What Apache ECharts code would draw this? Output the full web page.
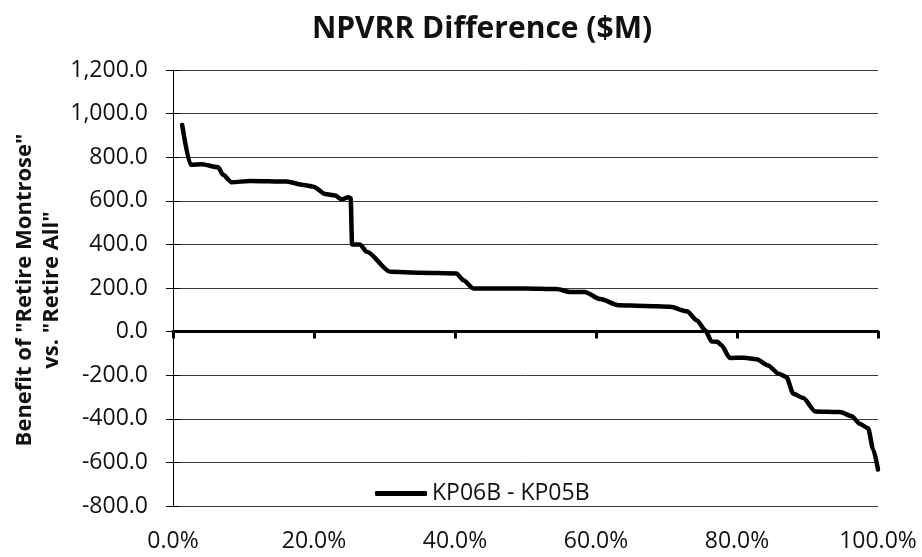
<!DOCTYPE html>
<html>
<head>
<meta charset="utf-8">
<script src="https://cdn.jsdelivr.net/npm/echarts@6/dist/echarts.min.js"></script>
<style>
  html, body { margin: 0; padding: 0; background: #fff; }
  #chart { width: 922px; height: 557px; }
</style>
</head>
<body>
<div id="chart"></div>
<script>
// ---- data ----
var seriesName = 'KP06B - KP05B';
var xPct = [1.3, 2.5, 4.1, 6.4, 7.1, 8.3, 10.9, 16.1, 18.5, 19.9, 21.6, 23.0, 23.9, 24.9, 25.2, 25.4, 26.5, 27.5, 30.8, 35.0, 40.2, 41.2, 42.6, 50.0, 54.4, 56.3, 58.4, 60.6, 63.2, 67.0, 70.5, 72.9, 74.3, 75.5, 76.4, 77.2, 77.8, 79.0, 81.0, 82.8, 84.4, 85.9, 87.0, 88.0, 89.4, 91.1, 94.6, 96.3, 97.4, 98.6, 99.3, 100.0];
var yVal = [948, 765, 768, 754, 719, 685, 691, 688, 673, 665, 631, 624, 607, 616, 612, 400, 400, 366, 274, 270, 267, 236, 198, 198, 195, 182, 182, 149, 121, 118, 114, 93, 52, 6, -45, -47, -63, -121, -120, -127, -155, -193, -208, -285, -305, -366, -369, -388, -423, -443, -538, -633];
var xTickLabels = ['0.0%', '20.0%', '40.0%', '60.0%', '80.0%', '100.0%'];
var yTickLabels = ['-800.0', '-600.0', '-400.0', '-200.0', '0.0', '200.0', '400.0', '600.0', '800.0', '1,000.0', '1,200.0'];
var titleText = 'NPVRR Difference ($M)';
var yTitleText = 'Benefit of "Retire Montrose"\nvs. "Retire All"';

var points = xPct.map(function (x, i) { return [x, yVal[i]]; });

var FONT = 'Open Sans';
var chart = echarts.init(document.getElementById('chart'), null, { renderer: 'canvas' });
chart.setOption({
  animation: false,
  backgroundColor: '#ffffff',
  title: {
    text: titleText,
    left: 477,
    textAlign: 'center',
    top: 9,
    textStyle: { fontFamily: FONT, fontWeight: 'bold', fontSize: 30, color: '#111' }
  },
  graphic: [{
    type: 'text',
    x: 38,
    y: 290,
    rotation: Math.PI / 2,
    style: {
      text: yTitleText,
      textAlign: 'center',
      textVerticalAlign: 'middle',
      font: 'bold 22px "Open Sans"',
      lineHeight: 27,
      fill: '#111'
    }
  }],
  legend: {
    left: 370,
    top: 477,
    icon: 'roundRect',
    itemWidth: 52,
    itemHeight: 5,
    itemGap: 6,
    itemStyle: { color: '#000', borderWidth: 0 },
    textStyle: { fontFamily: FONT, fontSize: 23, color: '#111' },
    data: [seriesName]
  },
  grid: { left: 173, right: 44, top: 70, bottom: 51 },
  xAxis: [{
    type: 'value', min: 0, max: 100, interval: 20, position: 'bottom',
    axisLine: { show: true, onZero: true, lineStyle: { color: '#000', width: 3 } },
    axisTick: { show: true, inside: false, length: 7, lineStyle: { color: '#000', width: 3 } },
    axisLabel: { show: false },
    splitLine: { show: false }
  }, {
    type: 'value', min: 0, max: 100, interval: 20, position: 'bottom',
    axisLine: { show: false, onZero: false },
    axisTick: { show: false },
    axisLabel: {
      show: true, margin: 24, fontFamily: FONT, fontSize: 23, color: '#111',
      formatter: function (v) { return xTickLabels[Math.round(v / 20)]; }
    },
    splitLine: { show: false }
  }],
  yAxis: [{
    type: 'value', min: -800, max: 1200, interval: 200, position: 'left',
    axisLine: { show: true, onZero: false, lineStyle: { color: '#000', width: 1 } },
    axisTick: { show: true, inside: false, length: 7, lineStyle: { color: '#000', width: 1 } },
    axisLabel: {
      show: true, margin: 25, fontFamily: FONT, fontSize: 23, color: '#111',
      formatter: function (v) { return yTickLabels[Math.round((v + 800) / 200)]; }
    },
    splitLine: { show: true, lineStyle: { color: '#3a3a3a', width: 1 } }
  }, {
    type: 'value', min: -800, max: 1200, interval: 200, position: 'left',
    axisLine: { show: false, onZero: false },
    axisTick: { show: true, inside: true, length: 7, lineStyle: { color: '#000', width: 1 } },
    axisLabel: { show: false },
    splitLine: { show: false }
  }],
  series: [{
    name: seriesName,
    type: 'line',
    xAxisIndex: 0,
    yAxisIndex: 0,
    data: points,
    showSymbol: false,
    symbol: 'none',
    smooth: 0.25,
    smoothMonotone: 'x',
    lineStyle: { color: '#000', width: 4.5, join: 'round', cap: 'round' },
    itemStyle: { color: '#000' }
  }]
});
</script>
</body>
</html>
